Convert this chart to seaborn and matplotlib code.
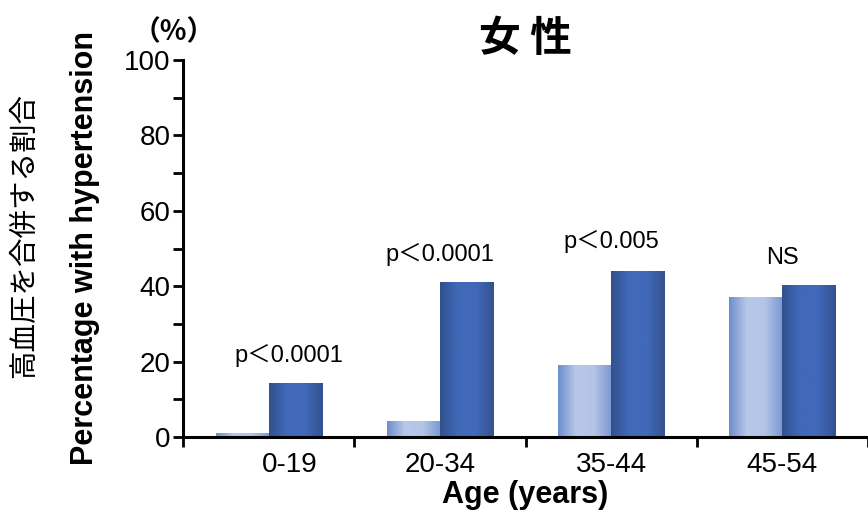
import numpy as np
import pandas as pd
import seaborn as sns
import matplotlib.pyplot as plt
from matplotlib.colors import LinearSegmentedColormap

# data
age_groups = ["0-19", "20-34", "35-44", "45-54"]
group_light = [1.1, 4.3, 19.2, 37.1]
group_dark = [14.4, 41.2, 44.0, 40.3]
p_labels = ["p＜0.0001", "p＜0.0001", "p＜0.005", "NS"]
p_label_y = [18.5, 45.5, 48.8, 44.5]

sns.set_theme(style="ticks")
plt.rcParams["font.family"] = ["Liberation Sans", "Noto Sans CJK JP", "DejaVu Sans"]
for key in ["text.color", "axes.labelcolor", "xtick.color", "ytick.color", "axes.edgecolor"]:
    plt.rcParams[key] = "black"
jp_font = ["Noto Sans CJK JP", "Liberation Sans"]

df = pd.DataFrame({
    "age": age_groups * 2,
    "value": group_light + group_dark,
    "group": ["light"] * 4 + ["dark"] * 4,
})

fig = plt.figure(figsize=(8.68, 5.13), dpi=100)
ax = fig.add_axes([0.211, 0.148, 0.789, 0.735])

sns.barplot(data=df, x="age", y="value", hue="group", hue_order=["light", "dark"],
            order=age_groups, width=0.62, legend=False, ax=ax, linewidth=0,
            palette={"light": "#9fb3e0", "dark": "#3f65b5"})

# horizontal gradients to imitate the shaded bars
cmaps = {
    "light": LinearSegmentedColormap.from_list("lt", ["#6c8dcc", "#b9c8e8", "#b4c4e6", "#7897d2"]),
    "dark": LinearSegmentedColormap.from_list("dk", ["#31508c", "#4169b9", "#4169b9", "#33528e"]),
}
grad = np.linspace(0, 1, 256).reshape(1, -1)
bars = [p for p in ax.patches if p.get_height() > 0]
for i, patch in enumerate(bars):
    key = "light" if i < len(age_groups) else "dark"
    x0, y0 = patch.get_x(), patch.get_y()
    w, h = patch.get_width(), patch.get_height()
    im = ax.imshow(grad, cmap=cmaps[key], aspect="auto", extent=[x0, x0 + w, y0, y0 + h],
                   zorder=2)
    im.set_clip_path(patch)
    patch.set_facecolor("none")

ax.set_xlim(-0.5, 3.5)
ax.set_ylim(0, 100)

# p-value annotations
for i, (lab, yy) in enumerate(zip(p_labels, p_label_y)):
    xx = i + (0.12 if i == 0 else 0)
    ax.text(xx, yy, lab, ha="center", va="bottom", fontsize=17)

# axes styling
sns.despine(ax=ax)
ax.spines["left"].set_linewidth(2.2)
ax.spines["bottom"].set_linewidth(2.2)
ax.set_yticks(np.arange(0, 101, 20))
ax.set_yticks(np.arange(10, 100, 20), minor=True)
ax.tick_params(axis="y", which="both", length=7, width=2, labelsize=20, pad=2)
ax.set_xticks([0.12, 1, 2, 3])
ax.set_xticklabels(age_groups)
ax.set_xticks(np.arange(-0.5, 3.6, 1), minor=True)
ax.tick_params(axis="x", which="major", length=0, labelsize=20, pad=11)
ax.tick_params(axis="x", which="minor", length=7, width=2)
ax.grid(False)

ax.set_xlabel("Age (years)", fontsize=22, fontweight="bold", labelpad=1)
ax.set_ylabel("")
ax.set_title("女 性", fontsize=30, fontweight="bold", family=jp_font, pad=4)

fig.text(0.028, 0.54, "高血圧を合併する割合", rotation=90, ha="center", va="center",
         fontsize=20.5, family=jp_font)
fig.text(0.098, 0.517, "Percentage with hypertension", rotation=90, ha="center", va="center",
         fontsize=22, fontweight="bold")
fig.text(0.2, 0.937, "（%）", ha="center", va="center", fontsize=20, fontweight="bold",
         family=jp_font)

fig.savefig("out.png", dpi=100)
